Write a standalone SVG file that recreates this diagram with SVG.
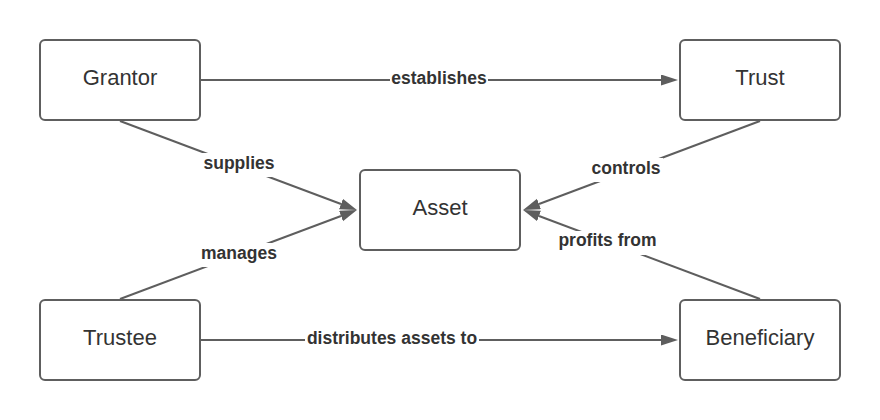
<svg xmlns="http://www.w3.org/2000/svg" width="880" height="420" viewBox="0 0 880 420">
  <style>
    .box { fill: #ffffff; stroke: #5e5e5e; stroke-width: 2; }
    .ntext { font-family: "Liberation Sans", Arial, sans-serif; font-size: 22px; fill: #333333; text-anchor: middle; }
    .edge { stroke: #5e5e5e; stroke-width: 2; fill: none; marker-end: url(#arrow); }
    .lbg { fill: #ffffff; }
    .ltext { font-family: "Liberation Sans", Arial, sans-serif; font-size: 17.5px; font-weight: bold; fill: #333333; text-anchor: middle; }
  </style>
  <defs>
    <marker id="arrow" markerUnits="userSpaceOnUse" markerWidth="17" markerHeight="12" refX="0" refY="5.5" orient="auto">
      <path d="M0,0 L17,5.5 L0,11 Z" fill="#5e5e5e"/>
    </marker>
  </defs>
  <rect width="880" height="420" fill="#ffffff"/>

  <g id="connectors">
    <g id="e-establishes">
      <line class="edge" x1="201" y1="80" x2="661" y2="80"/>
      <rect class="lbg" x="390" y="68" width="98" height="24"/>
      <text class="ltext" x="439" y="83.5">establishes</text>
    </g>
    <g id="e-supplies">
      <line class="edge" x1="120" y1="121" x2="341" y2="204"/>
      <rect class="lbg" x="202" y="153" width="74" height="24"/>
      <text class="ltext" x="239" y="168.5">supplies</text>
    </g>
    <g id="e-manages">
      <line class="edge" x1="120" y1="299" x2="341" y2="216"/>
      <rect class="lbg" x="199" y="243" width="80" height="24"/>
      <text class="ltext" x="239" y="258.5">manages</text>
    </g>
    <g id="e-controls">
      <line class="edge" x1="760" y1="121" x2="539" y2="204"/>
      <rect class="lbg" x="589" y="158" width="74" height="24"/>
      <text class="ltext" x="626" y="174">controls</text>
    </g>
    <g id="e-profits">
      <line class="edge" x1="760" y1="299" x2="539" y2="216"/>
      <rect class="lbg" x="556" y="231" width="103" height="24"/>
      <text class="ltext" x="607.5" y="246">profits from</text>
    </g>
    <g id="e-distributes">
      <line class="edge" x1="201" y1="340" x2="661" y2="340"/>
      <rect class="lbg" x="305" y="328" width="174" height="24"/>
      <text class="ltext" x="392" y="343.5">distributes assets to</text>
    </g>
  </g>

  <g id="grantor">
    <rect class="box" x="40" y="40" width="160" height="80" rx="5"/>
    <text class="ntext" x="120" y="84.5">Grantor</text>
  </g>
  <g id="trust">
    <rect class="box" x="680" y="40" width="160" height="80" rx="5"/>
    <text class="ntext" x="760" y="84.5">Trust</text>
  </g>
  <g id="asset">
    <rect class="box" x="360" y="170" width="160" height="80" rx="5"/>
    <text class="ntext" x="440" y="214.5">Asset</text>
  </g>
  <g id="trustee">
    <rect class="box" x="40" y="300" width="160" height="80" rx="5"/>
    <text class="ntext" x="120" y="344.5">Trustee</text>
  </g>
  <g id="beneficiary">
    <rect class="box" x="680" y="300" width="160" height="80" rx="5"/>
    <text class="ntext" x="760" y="344.5">Beneficiary</text>
  </g>
</svg>
